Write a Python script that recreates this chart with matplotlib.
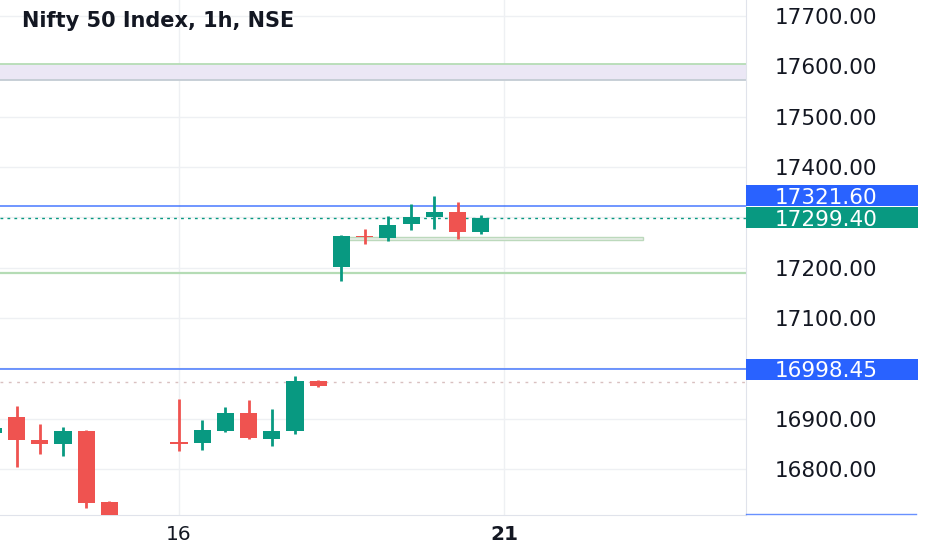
import numpy as np
import matplotlib
matplotlib.use("Agg")
import matplotlib.pyplot as plt
from matplotlib.patches import Rectangle
from matplotlib.lines import Line2D
from matplotlib.transforms import blended_transform_factory

# bar slots (hourly bars, 0 = first bar of the 16th)
slots = [-8, -7, -6, -5, -4, -3, 0, 1, 2, 3, 4, 5, 6, 7, 8, 9, 10, 11, 12, 13]
opens = [16871, 16903, 16857, 16849, 16875, 16734, 16853, 16851, 16875, 16911,
         16859, 16875, 16974, 17201, 17263, 17259, 17286, 17300, 17310, 17271]
highs = [16885, 16925, 16889, 16883, 16877, 16736, 16939, 16897, 16923, 16937,
         16919, 16984, 16976, 17265, 17277, 17302, 17326, 17342, 17330, 17304]
lows = [16866, 16803, 16829, 16825, 16722, 16700, 16835, 16837, 16873, 16859,
        16845, 16869, 16962, 17173, 17247, 17253, 17275, 17277, 17257, 17267]
closes = [16881, 16857, 16849, 16875, 16732, 16705, 16850, 16877, 16911, 16861,
          16875, 16974, 16964, 17263, 17260, 17284, 17300, 17310, 17271, 17299.4]

xtick_slots = [0, 14]
xtick_labels = ["16", "21"]
price_levels = [16800, 16900, 17000, 17100, 17200, 17300, 17400, 17500, 17600, 17700]
hidden_levels = [17000, 17300]

blue_levels = [17321.60, 16998.45]
last_price = 17299.40
green_level = 17190
prev_close = 16973
zone_top = (17573, 17605)
zone_small = (7, 20, 17255, 17261)

UP = "#089981"
DOWN = "#ef5350"
BLUE = "#2962ff"
TXT = "#131722"

W, H = 932, 550
fig = plt.figure(figsize=(W / 100, H / 100), dpi=100)
ax = fig.add_axes([0, 35 / H, 746 / W, 515 / H])

px_per_pt = 453 / 900.0
ax.set_ylim(17700 - 499 / px_per_pt, 17700 + 16 / px_per_pt)
ax.set_xlim(-179 / 23.21, (746 - 179) / 23.21)

# grid
ax.set_yticks(price_levels)
ax.set_yticklabels(["" if v in hidden_levels else f"{v:.2f}" for v in price_levels])
ax.set_xticks(xtick_slots)
ax.set_xticklabels(xtick_labels)
ax.grid(True, color="#eef0f3", lw=1)
ax.set_axisbelow(True)
ax.yaxis.tick_right()
ax.tick_params(axis="y", length=0, pad=21, labelsize=15.5, labelcolor=TXT)
ax.tick_params(axis="x", length=0, pad=7, labelsize=14.5, labelcolor=TXT)
ax.get_xticklabels()[1].set_fontweight("bold")
for s in ["top", "left"]:
    ax.spines[s].set_visible(False)
ax.spines["right"].set_color("#e0e3eb")
ax.spines["bottom"].set_color("#e0e3eb")

# drawings
ax.axhspan(zone_top[0], zone_top[1], facecolor="#ebe7f5", edgecolor="none", zorder=1)
ax.axhline(zone_top[1], color="#b5dcb5", lw=1.3, zorder=1)
ax.axhline(zone_top[0], color="#c3ccd3", lw=1.3, zorder=1)
ax.axhline(green_level, color="#b5dcb5", lw=1.6, zorder=1)
ax.axhline(prev_close, color="#d9c0c0", lw=1, ls=(0, (2, 4)), zorder=1)
for lv in blue_levels:
    ax.axhline(lv, color=BLUE, lw=1.1, alpha=0.85, zorder=1)
ax.axhline(last_price, color=UP, lw=1, ls=(0, (2, 3)), zorder=1)
ax.add_patch(Rectangle((zone_small[0], zone_small[2]), zone_small[1] - zone_small[0],
                       zone_small[3] - zone_small[2], facecolor="#e8ede8",
                       edgecolor="#bcd9bc", lw=1, zorder=1))

# candles
x = np.array(slots)
o = np.array(opens)
c = np.array(closes)
cols = [UP if cc >= oo else DOWN for oo, cc in zip(o, c)]
ax.vlines(x, lows, highs, colors=cols, lw=2, zorder=3)
bottoms = np.minimum(o, c)
heights = np.maximum(np.abs(c - o), 2)
ax.bar(x, heights, bottom=bottoms, width=0.74, color=cols, zorder=4)

# price labels on the scale (the upper blue one is pushed up so they don't collide)
tr = blended_transform_factory(ax.transAxes, ax.transData)
box_h = 21 / px_per_pt
labels = [(blue_levels[0], BLUE, 10.5), (last_price, UP, 0), (blue_levels[1], BLUE, 0)]
for lv, col, shift_px in labels:
    yc = lv + shift_px / px_per_pt
    ax.add_patch(Rectangle((1.0, yc - box_h / 2), 172 / 746, box_h, transform=tr,
                           facecolor=col, edgecolor="none", clip_on=False, zorder=5))
    ax.text(775 / 746, yc, f"{lv:.2f}", transform=tr, color="white", fontsize=15.5,
            ha="left", va="center_baseline", clip_on=False, zorder=6)

fig.add_artist(Line2D([746 / W, 916 / W], [36 / H, 36 / H], color=BLUE, lw=1, alpha=0.7))

fig.text(22 / W, 1 - 21 / H, "Nifty 50 Index, 1h, NSE", fontsize=15, fontweight="bold",
         color=TXT, ha="left", va="center")

fig.savefig("out.png", dpi=100)
